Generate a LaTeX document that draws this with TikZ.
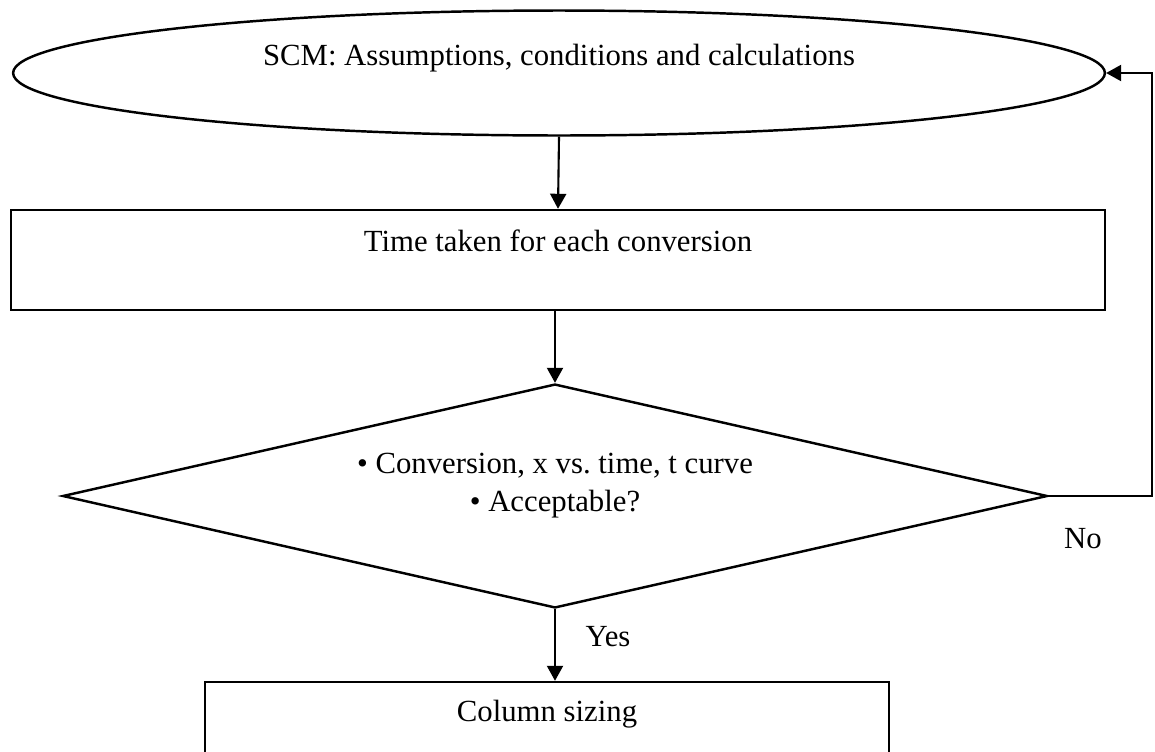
\documentclass[tikz,border=0pt]{standalone}
\usepackage{fontspec}
\setmainfont{Liberation Serif}
\usetikzlibrary{shapes,arrows.meta}

\tikzset{
	box/.style={draw,line width=1.4pt,rectangle,inner sep=0pt},
	term/.style={draw,line width=1.4pt,ellipse,inner sep=0pt},
	decision/.style={draw,line width=1.4pt,diamond,inner sep=0pt},
	txt/.style={font=\fontsize{17.5}{21.6}\selectfont,align=center,inner sep=0pt},
	arr/.style={line width=1.2pt,-{Triangle[length=0.3cm,width=0.32cm]}}
}

\begin{document}
\begin{tikzpicture}[x=0.02cm,y=-0.02cm]
		\useasboundingbox (0,0) rectangle (1155,751);
		\clip (0,0) rectangle (1155,751);
		% SCM
		\node[term,minimum width=21.84cm,minimum height=2.5cm] (scm) at (559,73) {};
		\node[txt] (scmtxt) at (559,58) {SCM: Assumptions, conditions and calculations};
		% Zeit
		\node[box,minimum width=21.88cm,minimum height=2cm] (time) at (558,260) {};
		\node[txt] (timetxt) at (558,241) {Time taken for each conversion};
		% Abfrage
		\node[decision,minimum width=19.7cm,minimum height=4.48cm] (check) at (555,496) {};
		\node[txt] (checktxt) at (555,486) {\textbullet\ Conversion, x vs.\ time, t curve\\ \textbullet\ Acceptable?};
		% Spalte
		\node[box,minimum width=13.68cm,minimum height=1.56cm] (column) at (547,721) {};
		\node[txt] (columntxt) at (547,714) {Column sizing};
		
		% Verbindungen
		\coordinate (loop) at (1152,496);
		\draw[arr] (scm.south) -- (time.north);
		\draw[arr] (time.south -| check.north) -- (check.north);
		\draw[arr] (check.south) -- (check.south |- column.north);
		\draw[arr] (check.east) -- (loop) |- (scm.east);
		
		% labels
		\node[txt] (yes) at (608,637) {Yes};
		\node[txt] (no) at (1083,539) {No};
		
		\end{tikzpicture}
\end{document}
